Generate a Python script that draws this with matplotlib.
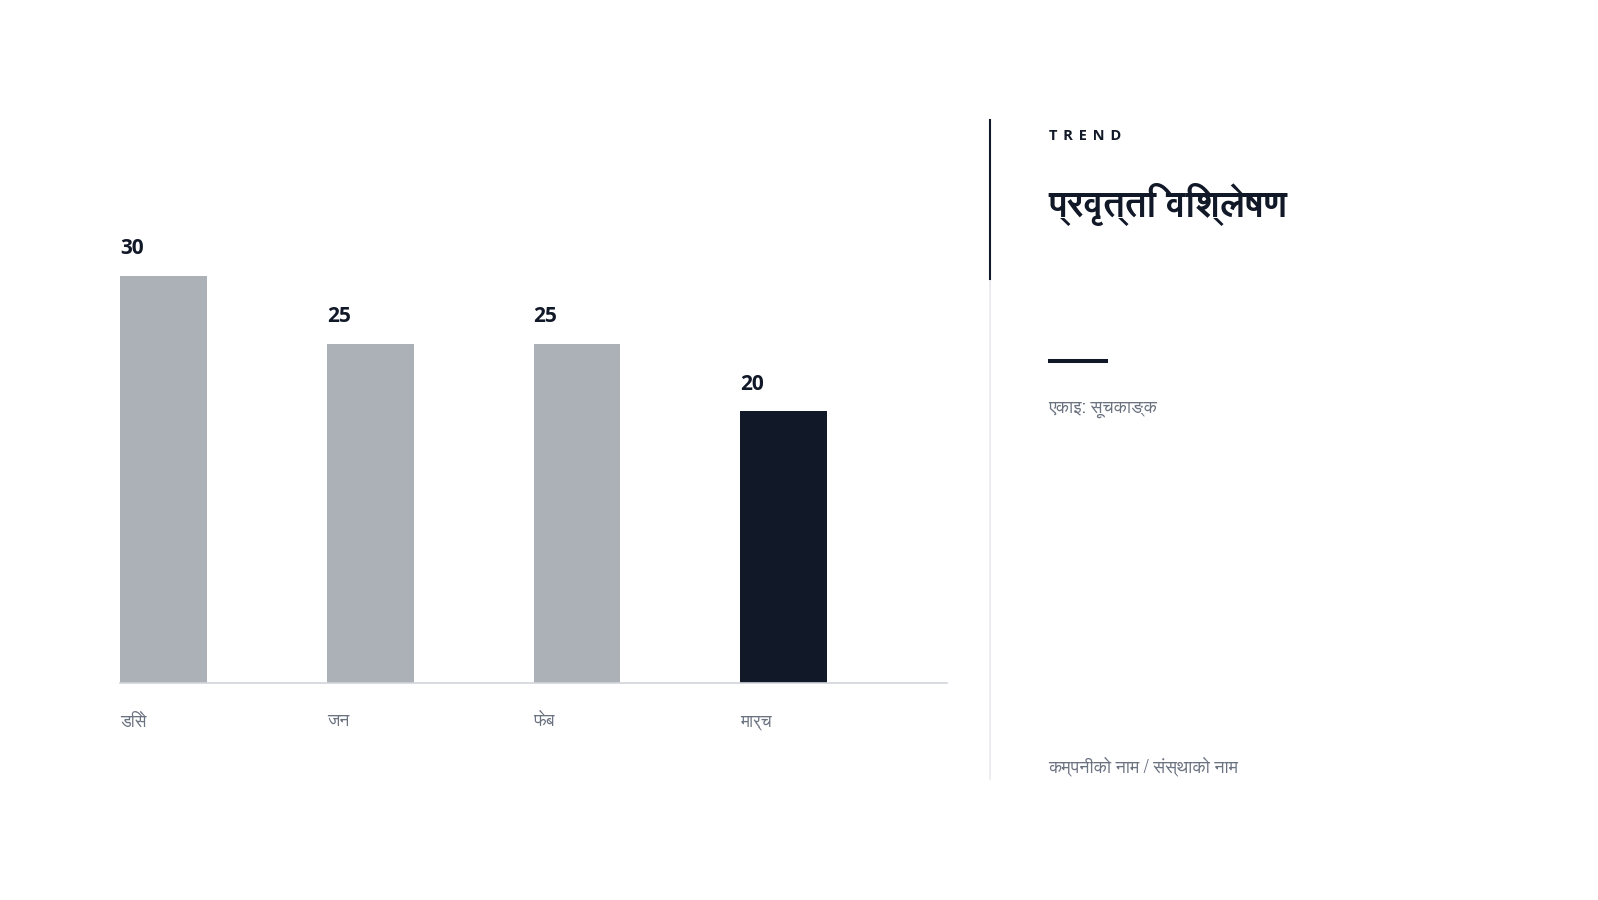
import matplotlib
matplotlib.use("Agg")
import matplotlib.pyplot as plt
from matplotlib import font_manager
from matplotlib.ft2font import FT2Font
from matplotlib.lines import Line2D
import matplotlib.patheffects as pe

# ---- data ----
categories = ["डिसे", "जन", "फेब", "मार्च"]
values = [30, 25, 25, 20]
highlight = [False, False, False, True]
eyebrow = "TREND"
title = "प्रवृत्ति विश्लेषण"
unit_label = "एकाइ: सूचकाङ्क"
footer = "कम्पनीको नाम / संस्थाको नाम"


# ---- fonts ----
def wnum(w):
    if isinstance(w, (int, float)):
        return w
    return {"bold": 700, "semibold": 600, "demibold": 600, "heavy": 800,
            "black": 900, "extra bold": 800}.get(str(w).lower(), 400)


deva, deva_bold = [], []
for f in font_manager.fontManager.ttflist:
    try:
        cm = FT2Font(f.fname).get_charmap()
    except Exception:
        continue
    if 0x0915 in cm:
        if f.name not in deva:
            deva.append(f.name)
        if wnum(f.weight) >= 600 and f.name not in deva_bold:
            deva_bold.append(f.name)

latin_bold = None
for name in ["Noto Sans", "Open Sans", "Inter", "Lato", "Roboto", "DejaVu Sans"]:
    if any(f.name == name and wnum(f.weight) >= 700 for f in font_manager.fontManager.ttflist):
        latin_bold = name
        break

latin = ["Noto Sans", "DejaVu Sans"]
deva_main = (deva_bold[:1] or deva[:1])
fam = deva_main + latin
deva_fake_bold = not deva_bold
plt.rcParams["font.family"] = fam

W, H = 1598, 900
fig = plt.figure(figsize=(W / 100, H / 100), dpi=100)
fig.patch.set_facecolor("white")


def fx(px):
    return px / W


def fy(py):
    return 1 - py / H


DARK = "#111827"
GRAYBAR = "#acb0b7"
TEXTGRAY = "#6b7280"

# ---- bar chart ----
ax = fig.add_axes([fx(120), fy(683.3), fx(947) - fx(120), fy(234.8) - fy(683.3)])
xs = list(range(len(categories)))
colors = [DARK if h else GRAYBAR for h in highlight]
ax.bar(xs, values, width=0.42, align="edge", color=colors, edgecolor="none")
ax.set_xlim(0, 4)
ax.set_ylim(0, 33)
for s in ["top", "left", "right"]:
    ax.spines[s].set_visible(False)
ax.spines["bottom"].set_color("#d1d5db")
ax.spines["bottom"].set_linewidth(1.2)
ax.set_xticks([])
ax.set_yticks([])
ax.patch.set_alpha(0)

num_family = [latin_bold] if latin_bold else latin
num_fx = [] if latin_bold else [pe.withStroke(linewidth=0.9, foreground=DARK)]
for x, v in zip(xs, values):
    ax.annotate(str(v), xy=(x, v), xytext=(0, 19.5), textcoords="offset points",
                ha="left", va="center", fontsize=15, fontweight="bold",
                color=DARK, family=num_family, path_effects=num_fx)
for x, c in zip(xs, categories):
    ax.annotate(c, xy=(x, 0), xycoords=("data", "axes fraction"),
                xytext=(0, -28), textcoords="offset points",
                ha="left", va="center", fontsize=12.5, color=TEXTGRAY, family=fam)

# ---- right panel ----
fig.add_artist(Line2D([fx(990), fx(990)], [fy(279), fy(778.6)], lw=1.1, color="#e5e7eb"))
fig.add_artist(Line2D([fx(990), fx(990)], [fy(120), fy(279)], lw=1.5, color=DARK))

fig.text(fx(1048.6), fy(136.5), "\u2009\u2009".join(eyebrow), fontsize=10.5, fontweight="bold",
         color=DARK, ha="left", va="center", family=num_family + ["DejaVu Sans"],
         path_effects=([] if latin_bold else [pe.withStroke(linewidth=0.6, foreground=DARK)]))
title_fx = [pe.withStroke(linewidth=1.4, foreground=DARK)] if deva_fake_bold else []
fig.text(fx(1048.6), fy(204), title, fontsize=26, fontweight="bold",
         color=DARK, ha="left", va="center", family=fam, path_effects=title_fx)
fig.add_artist(Line2D([fx(1048.3), fx(1108.3)], [fy(361), fy(361)], lw=2.9,
                      color=DARK, solid_capstyle="butt"))
fig.text(fx(1048.6), fy(408.6), unit_label, fontsize=12.8, color=TEXTGRAY,
         ha="left", va="center", family=fam)
fig.text(fx(1048.6), fy(766.3), footer, fontsize=12.8, color=TEXTGRAY,
         ha="left", va="center", family=fam)

fig.savefig("out.png", dpi=100, facecolor="white")
